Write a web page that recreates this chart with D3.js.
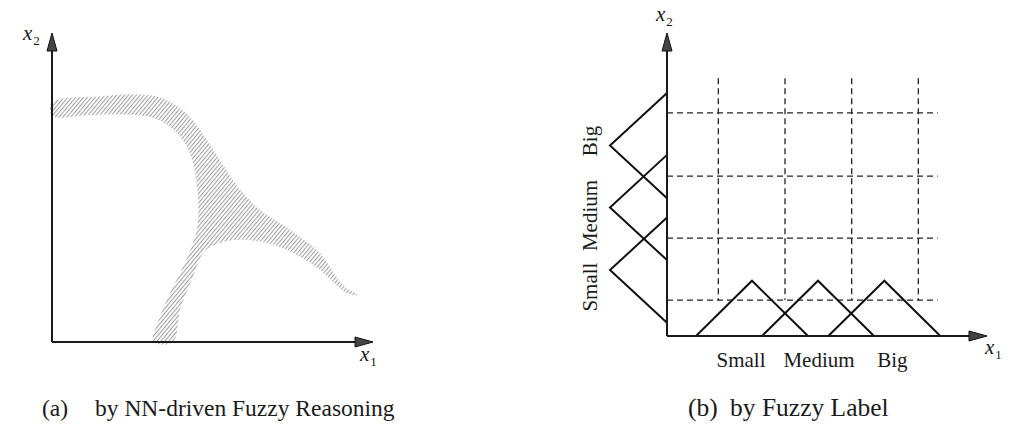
<!DOCTYPE html>
<html>
<head>
<meta charset="utf-8">
<script src="https://cdn.jsdelivr.net/npm/d3@7"></script>
<style>
  body { margin: 0; background: #fff; }
  text { font-family: "Liberation Serif", "Times New Roman", serif; fill: #1a1a1a; }
</style>
</head>
<body>
<div id="chart"></div>
<script>
// (a) outline of the hatched region, x1 and x2 in % of the axis length
var regionX1 = [0, 15, 25.2, 33.6, 39.9, 43.9, 48.3, 52.3, 56.4, 59.5, 64.8, 71.0, 77.3, 83.5, 90.7, 95.3,
                91.3, 83.5, 75.1, 67.0, 56.4, 49.2,
                47.0, 43.9, 39.9, 37.7,
                31.5, 33.6, 36.8, 41.4, 44.5, 45.5, 45.2, 43.9, 41.4, 36.8, 30.5, 15.0, 0];
var regionX2 = [77.5, 79.5, 80.2, 79.2, 75.7, 71.8, 65.4, 58.9, 52.4, 48.2, 42.7, 38.5, 34.0, 28.8, 18.4, 15.2,
                16.2, 23.3, 28.8, 32.0, 33.0, 30.7,
                28.8, 21.0, 10.4, 0,
                0, 8.1, 15.9, 25.6, 34.0, 39.5, 50.2, 57.9, 64.4, 69.6, 72.8, 73.6, 73.3];

// (b) fuzzy labels
var labels = ["Small", "Medium", "Big"];
var centersX1 = [1.275, 2.265, 3.26];   // membership peaks along x1
var halfWidthX1 = 0.84;
var heightX1 = 0.83;
var centersX2 = [0.99, 1.93, 2.86];     // membership peaks along x2
var halfWidthX2 = 0.79;
var heightX2 = 0.855;
var gridX1 = [0.77, 1.77, 2.77, 3.77];
var gridX2 = [0.54, 1.47, 2.40, 3.35];
var gridTopX2 = 3.87, gridRightX1 = 4.06;

var captions = [["(a)", "by NN-driven Fuzzy Reasoning"], ["(b)", "by Fuzzy Label"]];

var width = 1017, height = 434;
var svg = d3.select("#chart").append("svg")
    .attr("width", width)
    .attr("height", height);
svg.append("rect").attr("width", width).attr("height", height).attr("fill", "#fff");

var defs = svg.append("defs");
var hatch = defs.append("pattern")
    .attr("id", "hatch")
    .attr("patternUnits", "userSpaceOnUse")
    .attr("width", 3).attr("height", 10)
    .attr("patternTransform", "rotate(40)");
hatch.append("line")
    .attr("x1", 0.6).attr("y1", 0).attr("x2", 0.6).attr("y2", 10)
    .attr("stroke", "#999").attr("stroke-width", 1);

function arrowHead(g, tx, ty, dir) {
  var L = 18, W = 5, pts;
  if (dir === "right") pts = [[tx, ty], [tx - L, ty - W], [tx - L, ty + W]];
  else pts = [[tx, ty], [tx - W, ty + L], [tx + W, ty + L]];
  g.append("path")
    .attr("d", "M" + pts.join("L") + "Z")
    .attr("fill", "#444").attr("stroke", "#111").attr("stroke-width", 1);
}

function varLabel(g, x, y, sub) {
  var t = g.append("text").attr("x", x).attr("y", y)
    .style("font-size", "21px").style("font-style", "italic");
  t.append("tspan").text("x");
  t.append("tspan").attr("dx", 1).attr("dy", 5).style("font-size", "13px").style("font-style", "normal").text(sub);
}

// ---------- (a) ----------
var xa = d3.scaleLinear().domain([0, 100]).range([52, 373]);
var ya = d3.scaleLinear().domain([0, 100]).range([342, 33]);
var ga = svg.append("g");

var regionPts = regionX1.map(function(d, i) { return [d, regionX2[i]]; });
ga.append("path")
    .datum(regionPts)
    .attr("d", d3.line()
        .x(function(d) { return xa(d[0]); })
        .y(function(d) { return ya(d[1]); })
        .curve(d3.curveCatmullRomClosed.alpha(0.5)))
    .attr("fill", "url(#hatch)")
    .attr("stroke", "none");

ga.append("line")
    .attr("x1", xa(0)).attr("y1", ya(0)).attr("x2", xa(100) - 10).attr("y2", ya(0))
    .attr("stroke", "#1a1a1a").attr("stroke-width", 2);
ga.append("line")
    .attr("x1", xa(0)).attr("y1", ya(0)).attr("x2", xa(0)).attr("y2", ya(100) + 10)
    .attr("stroke", "#1a1a1a").attr("stroke-width", 2);
arrowHead(ga, xa(100), ya(0), "right");
arrowHead(ga, xa(0), ya(100), "up");
varLabel(ga, 23, 40, "2");
varLabel(ga, 360, 361, "1");

// ---------- (b) ----------
var xb = d3.scaleLinear().domain([0, 4.8]).range([667, 987]);
var yb = d3.scaleLinear().domain([0, 4.55]).range([336, 33]);
var gb = svg.append("g");

gb.selectAll(".vgrid")
  .data(gridX1)
  .enter().append("line")
    .attr("x1", function(d) { return xb(d); })
    .attr("x2", function(d) { return xb(d); })
    .attr("y1", yb(gridTopX2))
    .attr("y2", yb(gridX2[0]))
    .attr("stroke", "#222").attr("stroke-width", 1.3)
    .attr("stroke-dasharray", "6,4");

gb.selectAll(".hgrid")
  .data(gridX2)
  .enter().append("line")
    .attr("y1", function(d) { return yb(d); })
    .attr("y2", function(d) { return yb(d); })
    .attr("x1", xb(0))
    .attr("x2", xb(gridRightX1))
    .attr("stroke", "#222").attr("stroke-width", 1.3)
    .attr("stroke-dasharray", "6,4");

var tri = d3.line().x(function(d) { return d[0]; }).y(function(d) { return d[1]; });

gb.selectAll(".mfx")
  .data(centersX1)
  .enter().append("path")
    .attr("d", function(c) {
      return tri([[xb(c - halfWidthX1), yb(0)], [xb(c), yb(heightX1)], [xb(c + halfWidthX1), yb(0)]]);
    })
    .attr("fill", "none").attr("stroke", "#111").attr("stroke-width", 2);

gb.selectAll(".mfy")
  .data(centersX2)
  .enter().append("path")
    .attr("d", function(c) {
      return tri([[xb(0), yb(c - halfWidthX2)], [xb(-heightX2), yb(c)], [xb(0), yb(c + halfWidthX2)]]);
    })
    .attr("fill", "none").attr("stroke", "#111").attr("stroke-width", 2);

gb.append("line")
    .attr("x1", xb(0)).attr("y1", yb(0)).attr("x2", xb(4.8) - 10).attr("y2", yb(0))
    .attr("stroke", "#1a1a1a").attr("stroke-width", 2);
gb.append("line")
    .attr("x1", xb(0)).attr("y1", yb(0)).attr("x2", xb(0)).attr("y2", yb(4.55) + 10)
    .attr("stroke", "#1a1a1a").attr("stroke-width", 2);
arrowHead(gb, xb(4.8), yb(0), "right");
arrowHead(gb, xb(0), yb(4.55), "up");
varLabel(gb, 656, 21, "2");
varLabel(gb, 985, 354, "1");

// label offsets (px) from the membership peaks
var spreadX = [-11, 1, 8], spreadY = [17, 8, -4.5];
gb.selectAll(".lblx")
  .data(labels)
  .enter().append("text")
    .attr("x", function(d, i) { return xb(centersX1[i]) + spreadX[i]; })
    .attr("y", 367)
    .attr("text-anchor", "middle")
    .style("font-size", "21px")
    .text(function(d) { return d; });

gb.selectAll(".lbly")
  .data(labels)
  .enter().append("text")
    .attr("transform", function(d, i) {
      return "translate(597," + (yb(centersX2[i]) + spreadY[i]) + ") rotate(-90)";
    })
    .attr("text-anchor", "middle")
    .style("font-size", "21px")
    .text(function(d) { return d; });

// ---------- captions ----------
var capPos = [[42, 95], [688, 730]];
var capSize = ["23.5px", "25.5px"];
captions.forEach(function(c, i) {
  svg.append("text").attr("x", capPos[i][0]).attr("y", 416)
    .style("font-size", capSize[i]).text(c[0]);
  svg.append("text").attr("x", capPos[i][1]).attr("y", 416)
    .style("font-size", capSize[i]).text(c[1]);
});
</script>
</body>
</html>
